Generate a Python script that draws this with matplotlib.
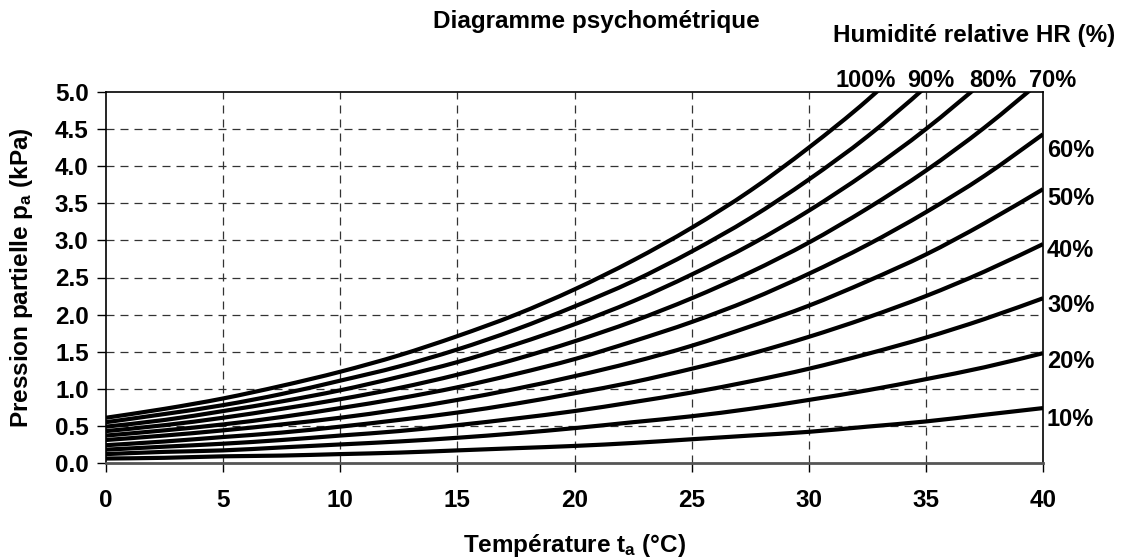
import matplotlib
matplotlib.use("Agg")
import matplotlib.pyplot as plt
from matplotlib.path import Path
from matplotlib.patches import PathPatch

plt.rcParams['font.family'] = ['Liberation Sans', 'DejaVu Sans']
plt.rcParams['font.weight'] = 'bold'
plt.rcParams['mathtext.fontset'] = 'custom'
plt.rcParams['mathtext.rm'] = 'Liberation Sans:bold'
plt.rcParams['mathtext.bf'] = 'Liberation Sans:bold'
plt.rcParams['mathtext.it'] = 'Liberation Sans:bold'

# Temperature (°C)
temperature = [0, 2.5, 5, 7.5, 10, 12.5, 15, 17.5, 20, 22.5, 25, 27.5, 30, 32.5, 35, 37.5, 40]

# Partial pressure (kPa) for each relative humidity curve
hr100 = [0.61, 0.73, 0.87, 1.04, 1.23, 1.45, 1.71, 2.00, 2.34, 2.73, 3.17, 3.67, 4.25, 4.89, 5.63, 6.46, 7.38]
hr90 = [0.55, 0.66, 0.78, 0.93, 1.11, 1.30, 1.53, 1.80, 2.11, 2.45, 2.85, 3.30, 3.82, 4.40, 5.07, 5.81, 6.65]
hr80 = [0.49, 0.58, 0.70, 0.83, 0.98, 1.16, 1.36, 1.60, 1.87, 2.18, 2.54, 2.94, 3.40, 3.92, 4.50, 5.16, 5.91]
hr70 = [0.43, 0.51, 0.61, 0.73, 0.86, 1.01, 1.19, 1.40, 1.64, 1.91, 2.22, 2.57, 2.97, 3.43, 3.94, 4.52, 5.17]
hr60 = [0.37, 0.44, 0.52, 0.62, 0.74, 0.87, 1.02, 1.20, 1.40, 1.64, 1.90, 2.20, 2.55, 2.94, 3.38, 3.87, 4.43]
hr50 = [0.31, 0.37, 0.44, 0.52, 0.61, 0.72, 0.85, 1.00, 1.17, 1.36, 1.58, 1.84, 2.12, 2.45, 2.81, 3.23, 3.69]
hr40 = [0.24, 0.29, 0.35, 0.41, 0.49, 0.58, 0.68, 0.80, 0.94, 1.09, 1.27, 1.47, 1.70, 1.96, 2.25, 2.58, 2.95]
hr30 = [0.18, 0.22, 0.26, 0.31, 0.37, 0.43, 0.51, 0.60, 0.70, 0.82, 0.95, 1.10, 1.27, 1.47, 1.69, 1.94, 2.22]
hr20 = [0.12, 0.15, 0.17, 0.21, 0.25, 0.29, 0.34, 0.40, 0.47, 0.55, 0.63, 0.73, 0.85, 0.98, 1.13, 1.29, 1.48]
hr10 = [0.06, 0.07, 0.09, 0.10, 0.12, 0.14, 0.17, 0.20, 0.23, 0.27, 0.32, 0.37, 0.42, 0.49, 0.56, 0.65, 0.74]

curves = [hr100, hr90, hr80, hr70, hr60, hr50, hr40, hr30, hr20, hr10]
top_labels = ['100%', '90%', '80%', '70%']
right_labels = ['60%', '50%', '40%', '30%', '20%', '10%']
x_ticks = [0, 5, 10, 15, 20, 25, 30, 35, 40]
y_ticks = [0.0, 0.5, 1.0, 1.5, 2.0, 2.5, 3.0, 3.5, 4.0, 4.5, 5.0]

FS = 17.5

fig = plt.figure(figsize=(11.25, 5.58), dpi=100)
ax = fig.add_axes([106/1125, 1-463/558, (1043-106)/1125, (463-92)/558])


def smooth_path(xs, ys):
    """Excel-style smoothed line: Catmull-Rom segments drawn as cubic Bezier curves."""
    pts = list(zip(xs, ys))
    verts = [pts[0]]
    codes = [Path.MOVETO]
    n = len(pts)
    for i in range(n - 1):
        p0 = pts[i - 1] if i > 0 else pts[i]
        p1 = pts[i]
        p2 = pts[i + 1]
        p3 = pts[i + 2] if i + 2 < n else pts[i + 1]
        c1 = (p1[0] + (p2[0] - p0[0]) / 6, p1[1] + (p2[1] - p0[1]) / 6)
        c2 = (p2[0] - (p3[0] - p1[0]) / 6, p2[1] - (p3[1] - p1[1]) / 6)
        verts += [c1, c2, p2]
        codes += [Path.CURVE4] * 3
    return Path(verts, codes)


for c in curves:
    patch = PathPatch(smooth_path(temperature, c), fill=False, edgecolor='black',
                      lw=3.0, capstyle='butt', zorder=3)
    ax.add_patch(patch)

ax.set_xlim(0, 40)
ax.set_ylim(0, 5.0)
ax.set_xticks(x_ticks)
ax.set_xticklabels([str(t) for t in x_ticks])
ax.set_yticks(y_ticks)
ax.set_yticklabels([f"{v:.1f}" for v in y_ticks])
ax.tick_params(axis='both', direction='out', length=6.5, width=1, labelsize=FS)
ax.tick_params(axis='x', pad=12)
ax.tick_params(axis='y', pad=6)
for lbl in ax.get_xticklabels() + ax.get_yticklabels():
    lbl.set_fontweight('bold')

for t in x_ticks[1:-1]:
    ax.axvline(t, color='#333333', lw=0.9, ls=(0, (6.4, 4.8)), zorder=1)
for v in y_ticks[1:-1]:
    ax.axhline(v, color='#333333', lw=0.9, ls=(0, (6.4, 4.8)), zorder=1)

for s in ax.spines.values():
    s.set_linewidth(1.2)
    s.set_color('black')
ax.spines['bottom'].set_color('#555555')
ax.spines['bottom'].set_linewidth(2.0)

fig.text(574/1125, 1-552/558, "Température t$_{a}$ (°C)", ha='center', va='baseline',
         fontsize=FS, fontweight='bold')
fig.text(22/1125, 1-277.5/558, "Pression partielle p$_{a}$ (kPa)", ha='center', va='center',
         rotation=90, fontsize=FS, fontweight='bold')

fig.text(596/1125, 1-28/558, "Diagramme psychométrique", ha='center', va='baseline',
         fontsize=FS, fontweight='bold')
fig.text(974/1125, 1-42/558, "Humidité relative HR (%)", ha='center', va='baseline',
         fontsize=FS, fontweight='bold')

top_x = [866, 931, 993, 1053]
for lab, xp in zip(top_labels, top_x):
    fig.text(xp/1125, 1-87/558, lab, ha='center', va='baseline', fontsize=17, fontweight='bold')

right_y = [157, 205, 257, 312, 368, 426]
for lab, yp in zip(right_labels, right_y):
    fig.text(1047/1125, 1-yp/558, lab, ha='left', va='baseline', fontsize=17, fontweight='bold')

fig.savefig("out.png", dpi=100)
